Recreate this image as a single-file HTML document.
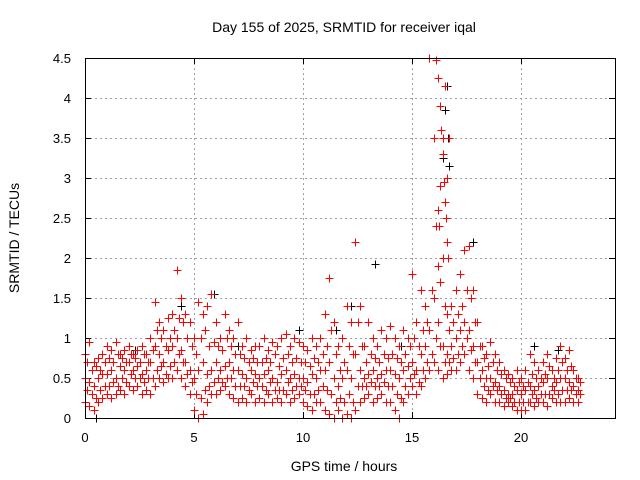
<!DOCTYPE html>
<html><head><meta charset="utf-8">
<style>
body{margin:0;background:#fff;}
svg{display:block;font-family:"Liberation Sans",sans-serif;}
</style></head>
<body>
<svg id="chart" width="640" height="480" xmlns="http://www.w3.org/2000/svg">
<text x="344" y="32" font-size="14" text-anchor="middle">Day 155 of 2025, SRMTID for receiver iqal</text>
<text x="344" y="471" font-size="14" text-anchor="middle">GPS time / hours</text>
<text transform="translate(19,238) rotate(-90)" font-size="14" text-anchor="middle">SRMTID / TECUs</text>
<g id="grid"></g><g id="ticks"></g><g id="pts"></g>
<rect x="85.5" y="58.5" width="530" height="360" fill="none" stroke="#000" stroke-width="1"/>
</svg>
<script>
const xTicks=[0,5,10,15,20];
const yTicks=[0,0.5,1,1.5,2,2.5,3,3.5,4,4.5];
const yTickLabels=["0","0.5","1","1.5","2","2.5","3","3.5","4","4.5"];
const redHigh=[0.8,0.95,0.7,0.75,0.8, 0.9,0.85,0.95,0.8,0.85, 0.9,0.8,0.85,0.9,0.8, 1.0,1.45,1.2,1.1,1.25, 1.3,1.85,1.5,1.3,1.2, 1.0,1.45,1.3,1.4,1.55, 1.2,1.0,1.3,1.1,1.0, 1.2,0.9,1.0,0.85,0.9, 0.9,1.0,0.85,0.95,0.9, 1.0,1.05,0.9,1.0,0.95, 0.9,0.85,1.0,0.9,1.0, 1.3,1.75,1.2,0.9,1.0, 1.4,1.2,2.2,1.4,0.9, 1.2,1.0,0.9,1.1,1.0, 1.15,1.0,0.9,1.1,1.0, 1.8,1.2,1.6,1.4,4.5, 3.5,2.6,2.0,1.3,1.4, 1.6,1.8,2.1,2.15,1.6, 1.2,0.9,0.8,0.95,0.8, 0.7,0.6,0.55,0.5,0.6, 0.5,0.6,0.8,0.7,0.6, 0.7,0.8,0.6,0.75,0.9, 0.75,0.85,0.6,0.5];
const redUpper=[0.7,0.6,0.65,0.6,0.7, 0.75,0.7,0.8,0.75,0.7, 0.8,0.75,0.7,0.8,0.7, 0.85,1.1,1.0,0.9,1.0, 1.1,1.25,1.2,1.0,0.9, 0.8,1.0,1.1,0.9,0.95, 0.9,0.85,1.0,0.9,0.8, 0.8,0.75,0.7,0.75,0.7, 0.7,0.75,0.7,0.8,0.65, 0.75,0.8,0.7,0.75,0.7, 0.7,0.65,0.75,0.7,0.8, 0.9,1.1,0.8,0.6,0.7, 0.9,0.8,1.2,0.9,0.7, 0.8,0.75,0.7,0.8,0.75, 0.8,0.75,0.7,0.8,0.9, 1.0,0.9,1.1,1.2,1.6, 2.4,1.7,1.4,1.1,1.2, 1.3,1.4,1.6,1.5,1.2, 0.9,0.75,0.65,0.7,0.6, 0.55,0.5,0.45,0.4,0.45, 0.4,0.45,0.55,0.5,0.5, 0.55,0.65,0.5,0.6,0.7, 0.6,0.65,0.5,0.45];
const redMid=[0.5,0.45,0.4,0.5,0.55, 0.55,0.6,0.5,0.65,0.6, 0.7,0.6,0.65,0.55,0.6, 0.7,0.9,0.8,0.7,0.85, 0.9,1.0,0.85,0.7,0.6, 0.5,0.6,0.7,0.55,0.6, 0.7,0.6,0.65,0.7,0.6, 0.6,0.55,0.5,0.6,0.55, 0.5,0.55,0.6,0.5,0.45, 0.55,0.6,0.5,0.55,0.5, 0.5,0.45,0.55,0.5,0.6, 0.6,0.7,0.5,0.4,0.5, 0.6,0.5,0.8,0.6,0.5, 0.55,0.6,0.5,0.55,0.6, 0.6,0.55,0.5,0.6,0.65, 0.7,0.6,0.8,0.9,1.1, 1.5,1.2,0.9,0.8,0.9, 1.0,1.1,1.2,1.1,0.9, 0.7,0.6,0.5,0.5,0.45, 0.4,0.35,0.3,0.3,0.35, 0.3,0.35,0.4,0.35,0.4, 0.45,0.5,0.4,0.45,0.5, 0.5,0.45,0.4,0.35];
const redLower=[0.35,0.3,0.25,0.35,0.4, 0.4,0.45,0.4,0.5,0.45, 0.55,0.5,0.5,0.45,0.5, 0.5,0.6,0.65,0.55,0.65, 0.7,0.8,0.7,0.55,0.45, 0.3,0.25,0.35,0.4,0.45, 0.5,0.45,0.5,0.5,0.4, 0.4,0.4,0.35,0.45,0.4, 0.4,0.35,0.45,0.35,0.35, 0.35,0.45,0.35,0.4,0.4, 0.35,0.3,0.3,0.35,0.4, 0.35,0.3,0.2,0.25,0.2, 0.3,0.2,0.4,0.4,0.4, 0.45,0.4,0.4,0.45,0.4, 0.4,0.3,0.25,0.4,0.5, 0.55,0.45,0.6,0.7,0.8, 1.0,0.9,0.7,0.7,0.75, 0.8,0.9,1.0,0.85,0.7, 0.5,0.4,0.35,0.4,0.35, 0.3,0.25,0.25,0.2,0.2, 0.2,0.2,0.3,0.25,0.3, 0.3,0.3,0.35,0.3,0.35, 0.35,0.35,0.3,0.3];
const redLow=[0.2,0.15,0.1,0.2,0.25, 0.3,0.25,0.3,0.35,0.3, 0.4,0.35,0.4,0.3,0.35, 0.3,0.4,0.5,0.45,0.5, 0.5,0.6,0.5,0.4,0.3, 0.1,0.0,0.05,0.2,0.3, 0.3,0.35,0.4,0.3,0.25, 0.2,0.25,0.2,0.3,0.2, 0.25,0.2,0.3,0.2,0.25, 0.2,0.3,0.2,0.25,0.3, 0.2,0.15,0.1,0.2,0.2, 0.1,0.05,0.0,0.1,0.0, 0.05,0.0,0.1,0.2,0.25, 0.3,0.2,0.25,0.3,0.2, 0.2,0.1,0.0,0.2,0.3, 0.4,0.3,0.4,0.5,0.6, 0.7,0.6,0.5,0.55,0.6, 0.6,0.7,0.8,0.6,0.5, 0.3,0.25,0.2,0.3,0.2, 0.2,0.15,0.2,0.15,0.1, 0.1,0.1,0.2,0.15,0.2, 0.2,0.15,0.25,0.2,0.2, 0.2,0.25,0.2,0.2];
const spikeX=[16.1,16.2,16.3,16.35,16.4,16.45,16.5,16.55,16.6,16.65,16.7,16.6,16.5,16.4,16.3,16.25,16.2];
const spikeY=[4.48,4.25,3.9,3.6,3.3,2.95,2.7,2.5,2.2,2.0,3.5,3.0,4.15,3.5,2.9,2.4,1.9];
const blackX=[16.2,16.6,16.5,16.65,16.7,13.3,12.2,5.9,4.4,16.4,9.8,17.8,0.5,2.3,7.0,20.6,21.7,11.5,14.5];
const blackY=[4.25,4.15,3.85,3.5,3.15,1.92,1.4,1.55,1.4,3.25,1.1,2.2,0.0,0.85,0.9,0.9,0.85,1.1,0.9];
const NS="http://www.w3.org/2000/svg";
const X=v=>85+v*21.8, Y=v=>418-v*80;
function mk(t,a,p){const e=document.createElementNS(NS,t);for(const k in a)e.setAttribute(k,a[k]);p.appendChild(e);return e;}
const grid=document.getElementById('grid'),ticks=document.getElementById('ticks'),pts=document.getElementById('pts');
xTicks.forEach(v=>{
 const xp=Math.round(X(v))+0.5;
 if(v>0){const g=mk('line',{x1:xp,x2:xp,y1:58,y2:418,stroke:'#a0a0a0','stroke-dasharray':'2,3'},grid);
 }
 const t=mk('text',{x:X(v),y:442,'font-size':13,'text-anchor':'middle'},ticks);t.textContent=v;
 
 mk('line',{x1:xp,x2:xp,y1:418,y2:412,stroke:'#000'},ticks);mk('line',{x1:xp,x2:xp,y1:58,y2:64,stroke:'#000'},ticks);
});
yTicks.forEach((v,i)=>{
 const yp=Math.round(Y(v))+0.5;
 if(v>0&&v<4.5){const g=mk('line',{x1:85,x2:615,y1:yp,y2:yp,stroke:'#a0a0a0','stroke-dasharray':'2,3'},grid);
 }
 const t=mk('text',{x:71,y:Y(v)+5,'font-size':13,'text-anchor':'end'},ticks);t.textContent=yTickLabels[i];
 
 mk('line',{x1:85,x2:91,y1:yp,y2:yp,stroke:'#000'},ticks);mk('line',{x1:615,x2:609,y1:yp,y2:yp,stroke:'#000'},ticks);
});
function cross(x,y,c,name){const px=Math.round(X(x))+0.5,py=Math.round(Y(y))+0.5;
 const p=mk('path',{d:`M${px-4} ${py}h8M${px} ${py-4}v8`,stroke:c,'stroke-width':1,fill:'none'},pts);
 
 }
blackX.forEach((x,i)=>cross(x,blackY[i],'#000','black-point'));
[redHigh,redMid,redLow].forEach(arr=>arr.forEach((v,i)=>cross(i*0.2,v,'#f00','red-point')));
[redUpper,redLower].forEach(arr=>arr.forEach((v,i)=>cross(0.1+i*0.2,v,'#f00','red-point')));
spikeX.forEach((x,i)=>cross(x,spikeY[i],'#f00','red-point'));
</script>
</body></html>
